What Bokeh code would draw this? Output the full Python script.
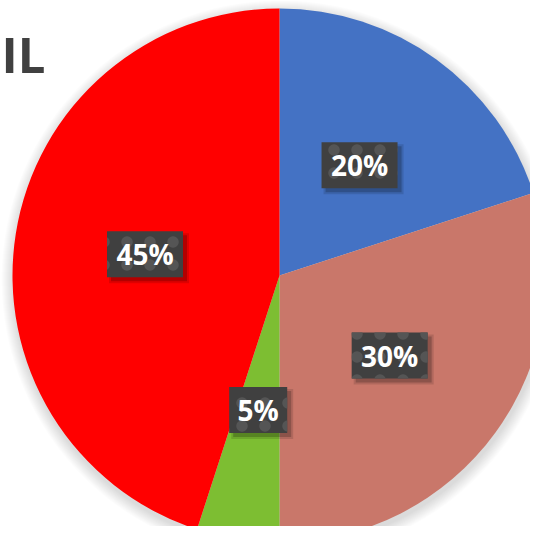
import math
from bokeh.plotting import figure
from bokeh.models import Range1d, ColumnDataSource
from bokeh.core.properties import value
from bokeh.embed import file_html
from bokeh.resources import INLINE

# ---- data ----
title_text = "BIL"
categories = ["A", "B", "C", "D"]
values = [20, 30, 5, 45]
labels = ["20%", "30%", "5%", "45%"]
colors = ["#4472C4", "#C9776A", "#7DBE32", "#FF0000"]

W, H = 530, 526
p = figure(width=W, height=H, output_backend="svg", toolbar_location=None,
           x_range=Range1d(0, W), y_range=Range1d(0, H), min_border=0)
p.axis.visible = False
p.grid.visible = False
p.outline_line_color = None
p.background_fill_color = "white"
p.border_fill_color = "white"

cx, cy, R = 279, H - 275, 267

# soft shadow around pie
for i in range(12):
    p.circle(x=cx + 1, y=cy - 4, radius=R + 12 - i, fill_color="black",
             fill_alpha=0.012, line_color=None)

total = sum(values)
starts, ends, mids = [], [], []
acc = 0
for v in values:
    a0 = math.pi / 2 - 2 * math.pi * acc / total
    acc += v
    a1 = math.pi / 2 - 2 * math.pi * acc / total
    starts.append(a0)
    ends.append(a1)
    mids.append((a0 + a1) / 2)

src = ColumnDataSource(dict(cat=categories, start=starts, end=ends, color=colors))
p.wedge(x=cx, y=cy, radius=R, start_angle="start", end_angle="end",
        direction="clock", fill_color="color", line_color=None, source=src)

lr = 0.51 * R
lx = [cx + lr * math.cos(m) for m in mids]
ly = [cy + lr * math.sin(m) for m in mids]
bw = [18 * len(t) + 22 for t in labels]
lsrc = ColumnDataSource(dict(x=lx, y=ly, w=bw, text=labels,
                             sx=[x + 4 for x in lx], sy=[y - 4 for y in ly],
                             sw=[w + 4 for w in bw]))

# label shadows
p.rect(x="sx", y="sy", width="sw", height=50, fill_color="black", fill_alpha=0.12,
       line_color=None, source=lsrc)
p.rect(x="sx", y="sy", width="w", height=46, fill_color="black", fill_alpha=0.2,
       line_color=None, source=lsrc)
# label boxes
p.rect(x="x", y="y", width="w", height=46, fill_color="#404040", line_color=None,
       hatch_pattern="dot", hatch_color="#555555", hatch_scale=23, hatch_weight=4,
       source=lsrc)
p.text(x="x", y="y", text="text", text_align="center", text_baseline="middle",
       text_color="white", text_font=value("Open Sans"), text_font_style="bold",
       text_font_size="28px", source=lsrc)

# title (partly cut off at left edge, as in the reference)
p.text(x=[45], y=[H - 53], text=[title_text], text_align="right",
       text_baseline="alphabetic", text_color="#404040",
       text_font=value("Open Sans"), text_font_style="bold", text_font_size="49px")

open("out.html", "w").write(file_html(p, INLINE))
